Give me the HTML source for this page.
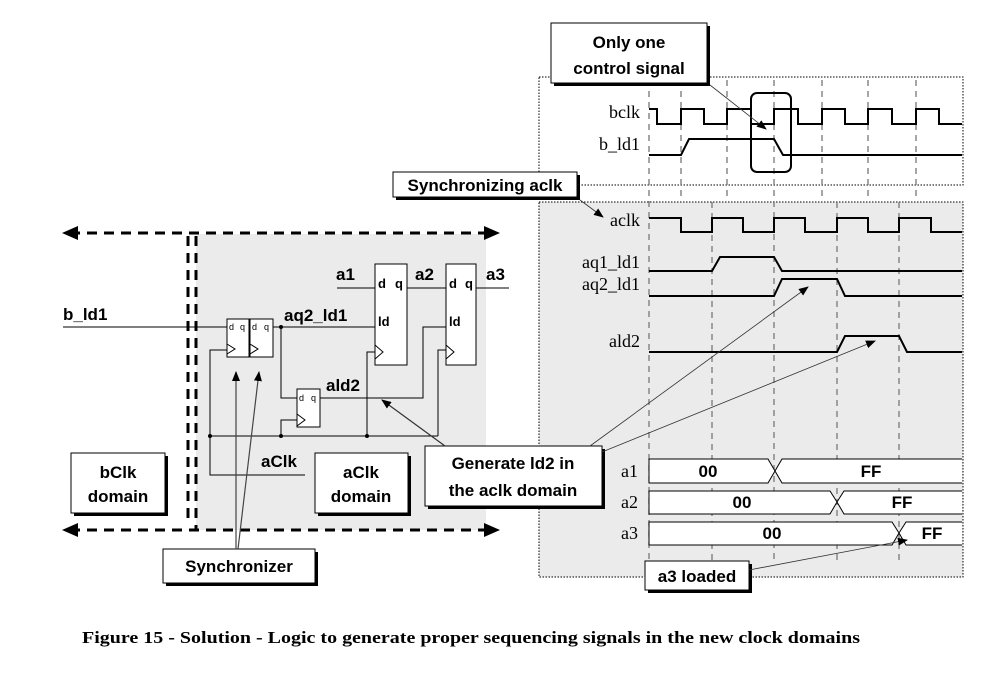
<!DOCTYPE html>
<html><head><meta charset="utf-8"><style>
html,body{margin:0;padding:0;background:#fff;}
svg{display:block;}
.s{font-family:"Liberation Sans",sans-serif;font-weight:bold;}
.r{font-family:"Liberation Serif",serif;}
</style></head><body>
<svg width="1003" height="678" viewBox="0 0 1003 678" xmlns="http://www.w3.org/2000/svg">
<defs>
<marker id="ah" markerWidth="10" markerHeight="8" refX="9" refY="4" orient="auto" markerUnits="userSpaceOnUse"><path d="M0,0 L10,4 L0,8 z" fill="#000"/></marker>
</defs>
<rect x="196" y="234" width="290" height="296" fill="#ebebeb"/>
<line x1="70" y1="233" x2="485" y2="233" stroke="#000" stroke-width="3" stroke-dasharray="10,7"/>
<line x1="70" y1="530" x2="485" y2="530" stroke="#000" stroke-width="3" stroke-dasharray="10,7"/>
<path d="M62,233 L78,226 L78,240 z M500,233 L484,226 L484,240 z M62,530 L78,523 L78,537 z M500,530 L484,523 L484,537 z" fill="#000"/>
<line x1="188" y1="236" x2="188" y2="525" stroke="#000" stroke-width="3" stroke-dasharray="10,7"/>
<line x1="196" y1="236" x2="196" y2="530" stroke="#000" stroke-width="3" stroke-dasharray="10,7"/>
<g stroke="#000" stroke-width="1" fill="none">
<line x1="63" y1="327" x2="227" y2="327"/>
<rect x="227" y="319" width="22" height="38" fill="#fff"/>
<rect x="250" y="319" width="23" height="38" fill="#fff"/>
<path d="M227,344 L235,349 L227,354 M250,344 L258,349 L250,354"/>
<line x1="273" y1="327" x2="375" y2="327"/>
<rect x="375" y="264" width="32" height="101" fill="#fff"/>
<rect x="446" y="264" width="30" height="101" fill="#fff"/>
<path d="M375,345 L383,352 L375,359 M446,345 L454,352 L446,359"/>
<line x1="337" y1="288" x2="375" y2="288"/>
<line x1="407" y1="288" x2="446" y2="288"/>
<line x1="476" y1="288" x2="509" y2="288"/>
<rect x="297" y="389" width="23" height="38" fill="#fff"/>
<path d="M297,414 L305,420 L297,426"/>
<polyline points="281,327 281,398 297,398"/>
<polyline points="320,398 423,398 423,327 446,327"/>
<line x1="210" y1="436" x2="438" y2="436"/>
<polyline points="438,436 438,350 446,350"/>
<polyline points="367,436 367,352 375,352"/>
<polyline points="281,436 281,420 297,420"/>
<polyline points="210,436 210,350 227,350"/>
<polyline points="210,436 210,475 305,475"/>
</g>
<g fill="#000"><circle cx="281" cy="327" r="2"/><circle cx="210" cy="436" r="2"/><circle cx="281" cy="436" r="2"/><circle cx="367" cy="436" r="2"/></g>
<g font-family="Liberation Sans" font-size="9">
<text x="229" y="330">d</text><text x="240" y="330">q</text>
<text x="252" y="330">d</text><text x="264" y="330">q</text>
<text x="299" y="401">d</text><text x="311" y="401">q</text>
</g>
<g class="s" font-size="13">
<text x="378" y="288">d</text><text x="395" y="288">q</text>
<text x="449" y="288">d</text><text x="465" y="288">q</text>
<text x="378" y="326">ld</text><text x="449" y="326">ld</text>
</g>
<g class="s" font-size="17">
<text x="63" y="320">b_ld1</text>
<text x="284" y="321">aq2_ld1</text>
<text x="336" y="280">a1</text><text x="415" y="280">a2</text><text x="486" y="280">a3</text>
<text x="326" y="391">ald2</text>
<text x="261" y="467">aClk</text>
</g>
<g fill="#000"><rect x="74" y="456" width="94" height="60"/><rect x="318" y="456" width="93" height="60"/><rect x="166" y="552" width="152" height="34"/></g>
<g fill="#fff" stroke="#000" stroke-width="1"><rect x="71" y="453" width="94" height="60"/><rect x="315" y="453" width="93" height="60"/><rect x="163" y="549" width="152" height="34"/></g>
<g class="s" font-size="17" text-anchor="middle">
<text x="118" y="478">bClk</text><text x="118" y="502">domain</text>
<text x="361" y="478">aClk</text><text x="361" y="502">domain</text>
<text x="239" y="572">Synchronizer</text>
</g>
<g stroke="#444" stroke-width="1.2" fill="none">
<line x1="236" y1="549" x2="236" y2="372" marker-end="url(#ah)"/>
<line x1="238" y1="549" x2="259" y2="372" marker-end="url(#ah)"/>
</g>
<rect x="539" y="202" width="424" height="375" fill="#ebebeb"/>
<g stroke="#000" stroke-width="1" fill="none" stroke-dasharray="1.5,1.5">
<rect x="539" y="77" width="424" height="108"/>
<rect x="539" y="202" width="424" height="375"/>
</g>
<g stroke="#777" stroke-width="1.3" stroke-dasharray="6,5">
<line x1="649" y1="80" x2="649" y2="560"/>
<line x1="681" y1="80" x2="681" y2="200"/>
<line x1="727" y1="80" x2="727" y2="200"/>
<line x1="774" y1="80" x2="774" y2="560"/>
<line x1="822" y1="80" x2="822" y2="200"/>
<line x1="868" y1="80" x2="868" y2="200"/>
<line x1="916" y1="80" x2="916" y2="200"/>
<line x1="712" y1="202" x2="712" y2="560"/>
<line x1="837" y1="202" x2="837" y2="560"/>
<line x1="899" y1="202" x2="899" y2="560"/>
</g>
<g stroke="#000" stroke-width="2" fill="none">
<polyline points="649,109 657,109 657,124 681,124 681,109 704,109 704,124 727,124 727,109 751,109 751,124 774,124 774,109 798,109 798,124 822,124 822,109 845,109 845,124 868,124 868,109 892,109 892,124 916,124 916,109 939,109 939,124 962,124"/>
<polyline points="649,155 681,155 689,139 774,139 783,155 962,155"/>
<rect x="751" y="93" width="40" height="79" rx="6"/>
<polyline points="649,218 681,218 681,232 712,232 712,218 743,218 743,232 774,232 774,218 805,218 805,232 837,232 837,218 868,218 868,232 899,232 899,218 931,218 931,232 962,232"/>
<polyline points="649,271 712,271 720,257 774,257 782,271 962,271"/>
<polyline points="649,296 774,296 782,279 837,279 845,296 962,296"/>
<polyline points="649,352 837,352 845,336 899,336 907,352 962,352"/>
</g>
<g stroke="#000" stroke-width="1" fill="#fff">
<path d="M649,459 L768,459 L775,471 L768,483 L649,483 z"/>
<path d="M962,459 L782,459 L775,471 L782,483 L962,483"/>
<path d="M649,491 L830,491 L837,502 L830,514 L649,514 z"/>
<path d="M962,491 L844,491 L837,502 L844,514 L962,514"/>
<path d="M649,522 L892,522 L899,533 L892,545 L649,545 z"/>
<path d="M962,522 L906,522 L899,533 L906,545 L962,545"/>
</g>
<g class="r" font-size="18" text-anchor="end">
<text x="640" y="118">bclk</text><text x="640" y="150">b_ld1</text>
<text x="640" y="226">aclk</text><text x="640" y="268">aq1_ld1</text><text x="640" y="290">aq2_ld1</text>
<text x="640" y="347">ald2</text>
<text x="638" y="477">a1</text><text x="638" y="508">a2</text><text x="638" y="539">a3</text>
</g>
<g class="s" font-size="17" text-anchor="middle">
<text x="708" y="477">00</text><text x="871" y="477">FF</text>
<text x="742" y="508">00</text><text x="902" y="508">FF</text>
<text x="772" y="539">00</text><text x="932" y="539">FF</text>
</g>
<g fill="#000"><rect x="554" y="26" width="156" height="60"/><rect x="396" y="175" width="184" height="25"/><rect x="648" y="564" width="104" height="29"/><rect x="428" y="449" width="177" height="60"/></g>
<g fill="#fff" stroke="#000" stroke-width="1"><rect x="551" y="23" width="156" height="60"/><rect x="393" y="172" width="184" height="25"/><rect x="645" y="561" width="104" height="29"/><rect x="425" y="446" width="177" height="60"/></g>
<g class="s" font-size="17" text-anchor="middle">
<text x="629" y="48">Only one</text><text x="629" y="74">control signal</text>
<text x="485" y="191">Synchronizing aclk</text>
<text x="697" y="582">a3 loaded</text>
<text x="513" y="469">Generate ld2 in</text><text x="513" y="496">the aclk domain</text>
</g>
<g stroke="#333" stroke-width="0.8" fill="none">
<line x1="710" y1="85" x2="766" y2="129" marker-end="url(#ah)"/>
<line x1="580" y1="200" x2="603" y2="217" marker-end="url(#ah)"/>
<line x1="749" y1="570" x2="907" y2="540" marker-end="url(#ah)"/>
<line x1="445" y1="446" x2="382" y2="400" stroke-width="1.2" marker-end="url(#ah)"/>
<line x1="590" y1="446" x2="808" y2="287" marker-end="url(#ah)"/>
<line x1="602" y1="452" x2="875" y2="341" marker-end="url(#ah)"/>
</g>
<text x="82" y="643" font-family="Liberation Serif" font-weight="bold" font-size="17" textLength="778" lengthAdjust="spacingAndGlyphs">Figure 15 - Solution - Logic to generate proper sequencing signals in the new clock domains</text>
</svg>
</body></html>
